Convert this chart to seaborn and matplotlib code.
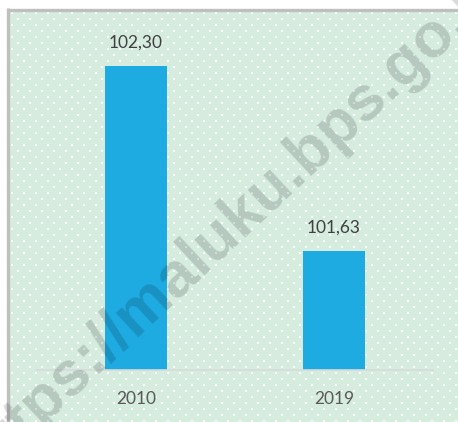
import numpy as np
import pandas as pd
import matplotlib
matplotlib.use("Agg")
import matplotlib.pyplot as plt
import seaborn as sns

# ---- data ----
years = ["2010", "2019"]
values = [102.30, 101.63]
value_labels = ["102,30", "101,63"]
watermark = "https://maluku.bps.go.id"

sns.set_theme(style="white")
plt.rcParams["font.family"] = ["Lato", "DejaVu Sans"]

W, H = 458, 422
fig = plt.figure(figsize=(W / 100, H / 100), dpi=100)
fig.patch.set_facecolor("white")

# ---- background panel with dotted pattern (pixel coordinates) ----
bg = fig.add_axes([0, 0, 1, 1], zorder=-1)
bg.set_xlim(0, W)
bg.set_ylim(H, 0)
bg.axis("off")
bg.add_patch(plt.Rectangle((7.5, 9.5), W, H, facecolor="#D5ECDF", edgecolor="none"))
dots_x, dots_y = [], []
for i, yy in enumerate(np.arange(13, H + 6, 6)):
    off = 0 if i % 2 == 0 else 6
    xs = np.arange(12 + off, W + 6, 12)
    dots_x.extend(xs)
    dots_y.extend([yy] * len(xs))
bg.scatter(dots_x, dots_y, s=3.6, marker="s", color="white", linewidths=0, alpha=0.95)
# frame (top and left)
bg.plot([7.5, W + 5], [9.5, 9.5], color="#BFBFBF", lw=2.4, solid_capstyle="butt")
bg.plot([7.5, 7.5], [8.3, H + 5], color="#BFBFBF", lw=2.4, solid_capstyle="butt")

# ---- main axes ----
ax = fig.add_axes([37 / W, 1 - 370 / H, (433 - 37) / W, (370 - 38.8) / H])
ax.patch.set_alpha(0)
df = pd.DataFrame({"year": years, "value": values})
sns.barplot(data=df, x="year", y="value", color="#1EABE2", saturation=1,
            width=0.31, ax=ax, edgecolor="none")
ax.set_ylim(101.2, 102.4)
ax.set_xlim(-0.5, 1.5)
for s in ["top", "right", "left"]:
    ax.spines[s].set_visible(False)
ax.spines["bottom"].set_color("#D9D9D9")
ax.spines["bottom"].set_linewidth(1.2)
ax.set_yticks([])
ax.set_xlabel("")
ax.set_ylabel("")
ax.tick_params(axis="x", length=0, pad=15, labelsize=12.5, labelcolor="#595959")

for i, (v, lab) in enumerate(zip(values, value_labels)):
    ax.annotate(lab, (i, v), xytext=(0, 17), textcoords="offset points",
                ha="center", va="center", fontsize=12.5, color="#404040")

# ---- watermark ----
fig.text(247 / W, 1 - 232 / H, watermark, fontsize=45, fontweight="bold",
         family="Liberation Sans", color="black", alpha=0.15, rotation=43,
         rotation_mode="anchor", ha="center", va="baseline", zorder=10)

fig.savefig("out.png", dpi=100)
